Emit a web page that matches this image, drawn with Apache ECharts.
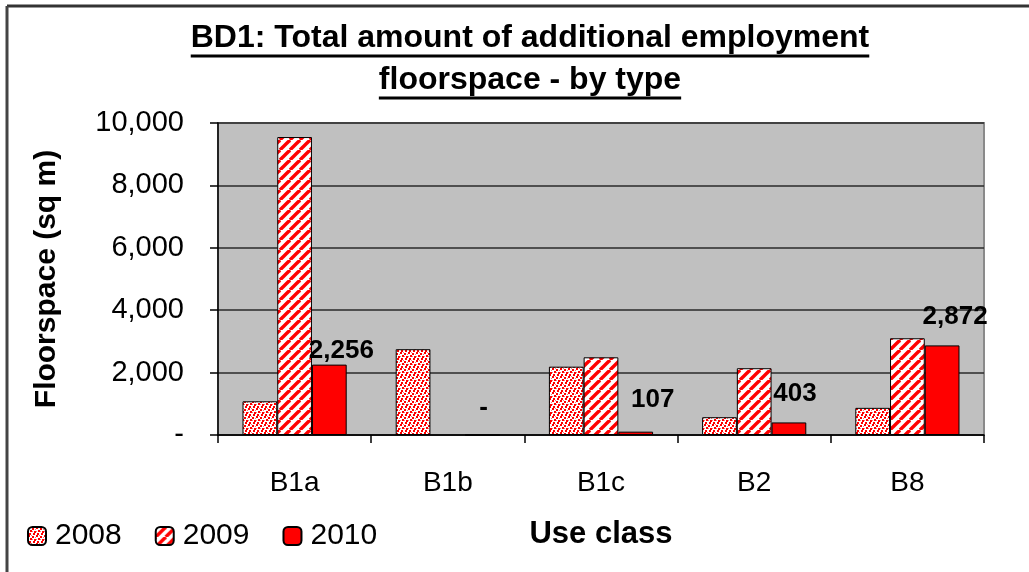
<!DOCTYPE html>
<html>
<head>
<meta charset="utf-8">
<script src="https://cdn.jsdelivr.net/npm/echarts@6/dist/echarts.min.js"></script>
<style>
  html, body { margin: 0; padding: 0; background: #fff; }
  #chart { width: 1029px; height: 572px; }
</style>
</head>
<body>
<div id="chart"></div>
<script>
const useClasses = ['B1a', 'B1b', 'B1c', 'B2', 'B8']
const years = ['2008', '2009', '2010']
const floor2008 = [1080, 2750, 2190, 570, 870]
const floor2009 = [9550, 0, 2490, 2140, 3100]
const floor2010 = [2256, 0, 107, 403, 2872]
const yTicks = [0, 2000, 4000, 6000, 8000, 10000]

const FONT = '"Liberation Sans", Arial, sans-serif'

// fill patterns like the old excel ones
const makeDots = () => {
    const c = document.createElement('canvas')
    c.width = 8; c.height = 8
    const g = c.getContext('2d')
    g.fillStyle = '#fff'
    g.fillRect(0, 0, 8, 8)
    g.fillStyle = '#f00'
    ;[[0, 0], [4, 1], [2, 3], [6, 4], [1, 6], [5, 6]].forEach(p => g.fillRect(p[0], p[1], 2, 2))
    g.fillStyle = '#f77'
    ;[[3, 0], [7, 2], [0, 4], [4, 4]].forEach(p => g.fillRect(p[0], p[1], 1, 1))
    return c
}

const makeStripes = () => {
    const c = document.createElement('canvas')
    c.width = 10; c.height = 10
    const g = c.getContext('2d')
    g.fillStyle = '#fff'
    g.fillRect(0, 0, 10, 10)
    g.strokeStyle = '#f00'
    g.lineWidth = 3.4
    ;[-10, 0, 10].forEach(k => {
        g.beginPath()
        g.moveTo(k, 10)
        g.lineTo(k + 10, 0)
        g.stroke()
    })
    return c
}

const fmt = v => v === 0 ? '-' : v.toLocaleString('en-US')

// label nudges, excel had them dragged around a bit
const labelNudge = [[12, 4], [1, -9], [17, -14], [6, -11], [13, -11]]

const measure = (text, font) => {
    const ctx = document.createElement('canvas').getContext('2d')
    ctx.font = font
    return ctx.measureText(text).width
}

const titleLines = ['BD1: Total amount of additional employment', 'floorspace - by type']
const titleCenter = 530
const titleMidY = [38, 80]
const titleFont = 'bold 32px ' + FONT
const underlineY = [56, 98]
const titleGraphics = []
titleLines.forEach((t, i) => {
    const w = measure(t, titleFont)
    titleGraphics.push({
        type: 'text',
        x: titleCenter, y: titleMidY[i],
        style: { text: t, font: titleFont, fill: '#000', align: 'center', verticalAlign: 'middle' }
    })
    titleGraphics.push({
        type: 'line',
        shape: { x1: titleCenter - w / 2, y1: underlineY[i], x2: titleCenter + w / 2, y2: underlineY[i] },
        style: { stroke: '#000', lineWidth: 3 }
    })
})

const barStyle = (fill) => ({ color: fill, borderColor: '#000', borderWidth: 1 })

const option = {
    animation: false,
    backgroundColor: '#fff',
    textStyle: { fontFamily: FONT },
    legend: {
        data: years,
        left: 22,
        top: 516,
        itemWidth: 18,
        itemHeight: 18,
        itemGap: 33,
        textStyle: { fontSize: 30, color: '#000', fontFamily: FONT, padding: [0, 0, 0, 4] }
    },
    grid: {
        left: 218, right: 45, top: 123, bottom: 137,
        show: true,
        backgroundColor: '#c0c0c0',
        borderColor: '#8a8a8a',
        borderWidth: 2
    },
    xAxis: {
        type: 'category',
        data: useClasses,
        name: 'Use class',
        nameLocation: 'middle',
        nameGap: 84,
        nameTextStyle: { fontSize: 31, fontWeight: 'bold', color: '#000', fontFamily: FONT },
        axisLine: { lineStyle: { color: '#000', width: 1.5 } },
        axisTick: { show: true, length: 8, alignWithLabel: false, lineStyle: { color: '#000', width: 1.5 } },
        axisLabel: { fontSize: 28, color: '#000', margin: 34, fontFamily: FONT }
    },
    yAxis: {
        type: 'value',
        min: 0,
        max: 10000,
        interval: yTicks[1] - yTicks[0],
        name: 'Floorspace (sq m)',
        nameLocation: 'middle',
        nameRotate: 90,
        nameGap: 156,
        nameTextStyle: { fontSize: 30, fontWeight: 'bold', color: '#000', fontFamily: FONT },
        axisLine: { show: true, lineStyle: { color: '#000', width: 1.5 } },
        axisTick: { show: true, length: 8, lineStyle: { color: '#000', width: 1.5 } },
        axisLabel: { fontSize: 29, color: '#000', margin: 34, formatter: fmt, fontFamily: FONT },
        splitLine: { lineStyle: { color: '#2a2a2a', width: 1.5 } }
    },
    series: [
        {
            name: years[0], type: 'bar', data: floor2008,
            barGap: '0%', barCategoryGap: '32%',
            itemStyle: barStyle({ image: makeDots(), repeat: 'repeat' })
        },
        {
            name: years[1], type: 'bar', data: floor2009.map(v => v === 0 ? '-' : v),
            barGap: '0%', barCategoryGap: '32%',
            itemStyle: barStyle({ image: makeStripes(), repeat: 'repeat' })
        },
        {
            name: years[2], type: 'bar',
            barGap: '0%', barCategoryGap: '32%',
            itemStyle: barStyle('#ff0000'),
            data: floor2010.map((v, i) => ({
                value: v,
                label: { offset: labelNudge[i] }
            })),
            label: {
                show: true,
                position: 'top',
                distance: 5,
                fontSize: 26,
                fontWeight: 'bold',
                color: '#000',
                fontFamily: FONT,
                formatter: p => fmt(p.value)
            }
        }
    ],
    graphic: [
        { type: 'line', shape: { x1: 7, y1: 6, x2: 1029, y2: 6 }, style: { stroke: '#333', lineWidth: 3 } },
        { type: 'line', shape: { x1: 7, y1: 6, x2: 7, y2: 572 }, style: { stroke: '#444', lineWidth: 3 } }
    ].concat(titleGraphics)
}

const chart = echarts.init(document.getElementById('chart'), null, { renderer: 'canvas' })
chart.setOption(option)
</script>
</body>
</html>
